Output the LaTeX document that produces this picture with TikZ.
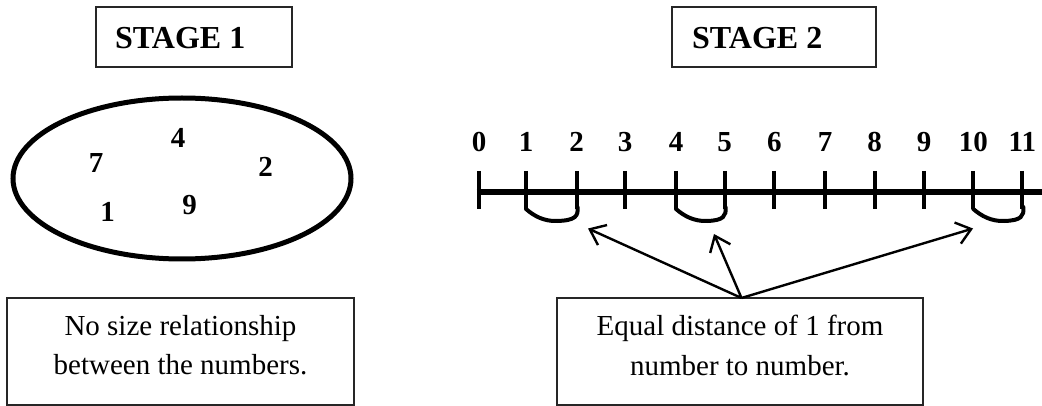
\documentclass[tikz,border=0pt]{standalone}
\usepackage{fontspec}
\setmainfont{Liberation Serif}
\usetikzlibrary{arrows.meta,shapes.geometric}
\tikzset{
  frame/.style={draw=black!85, line width=1.1pt, rectangle, inner sep=0pt},
  title/.style={font=\fontsize{32}{38}\selectfont\bfseries, anchor=base west, inner sep=0pt},
  digit/.style={font=\fontsize{29}{34}\selectfont\bfseries, anchor=base, inner sep=0pt},
  note/.style={font=\fontsize{29}{35}\selectfont, anchor=base, inner sep=0pt},
  axis/.style={line width=6pt},
  tick/.style={line width=4pt},
  hook/.style={line width=4pt, line cap=round},
  pointer/.style={line width=2.4pt, -{Straight Barb[length=14pt, width=22pt, line width=2.4pt]}}
}
\begin{document}
\begin{tikzpicture}[x=1pt, y=-1pt]
\useasboundingbox (0,0) rectangle (1042,406);

% ---------- Stage 1 ----------
\node[frame, minimum width=196pt, minimum height=60pt] (s1box) at (194,37) {};
\node[title] (s1) at (115,49) {STAGE 1};

\node[draw, line width=5pt, ellipse, minimum width=338pt, minimum height=161pt, inner sep=0pt] (set) at (182,178.5) {};
\node[digit] (n4) at (178,148) {4};
\node[digit] (n7) at (96,172.5) {7};
\node[digit] (n2) at (265.5,176.5) {2};
\node[digit] (n1) at (107.5,221.5) {1};
\node[digit] (n9) at (189.5,214.5) {9};

\node[frame, minimum width=347pt, minimum height=107pt] (b1) at (180.5,351.5) {};
\node[note] (b1a) at (180.5,335) {No size relationship};
\node[note] (b1b) at (180.5,374) {between the numbers.};

% ---------- Stage 2 ----------
\node[frame, minimum width=204pt, minimum height=60pt] (s2box) at (774,37) {};
\node[title] (s2) at (692,49) {STAGE 2};

% number line
\coordinate (lstart) at (476.5,192.5);
\coordinate (lend) at (1042,192.5);
\draw[axis] (lstart) -- (lend);

\foreach \i/\x in {0/479,1/526,2/576.5,3/625,4/676,5/724.5,6/774.3,7/825,8/874.6,9/924,10/973.3,11/1022.3}{
  \coordinate (t\i) at (\x,190);
  \draw[tick] (\x,171) -- (\x,209);
  \node[digit] (lab\i) at (\x,152) {\i};
}

% unit steps marked under the line
\foreach \a/\b in {526/576.5,676/724.5,973.3/1022.3}{
  \draw[hook] (\a,209) .. controls (\a+8,216) and (\a+18,221.5) .. (\a+31,221)
              .. controls (\b-1,220.5) and (\b+2,216) .. (\b+1,207);
}

\node[frame, minimum width=366pt, minimum height=107pt] (b2) at (740,351.5) {};
\node[note] (b2a) at (740,335) {Equal distance of 1 from};
\node[note] (b2b) at (740,375) {number to number.};

\coordinate (p1) at (588,228.5);
\coordinate (p2) at (714,234);
\coordinate (p3) at (973,228.5);
\coordinate (src) at (741.5,298);
\draw[pointer] (src) -- (p1);
\draw[pointer] (src) -- (p2);
\draw[pointer] (src) -- (p3);
\end{tikzpicture}
\end{document}
